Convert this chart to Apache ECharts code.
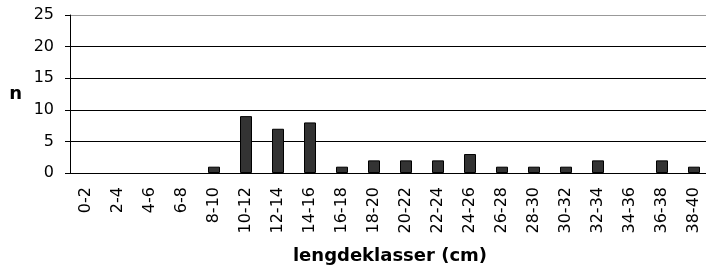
<!DOCTYPE html>
<html>
<head>
<meta charset="utf-8">
<script src="https://cdn.jsdelivr.net/npm/echarts@6/dist/echarts.min.js"></script>
<style>
  html, body { margin: 0; padding: 0; background: #fff; overflow: hidden; }
  #chart { width: 710px; height: 275px; }
</style>
</head>
<body>
<div id="chart"></div>
<script>
// lengdeklasser og antall
const klasser = ['0-2', '2-4', '4-6', '6-8', '8-10', '10-12', '12-14', '14-16', '16-18', '18-20',
  '20-22', '22-24', '24-26', '26-28', '28-30', '30-32', '32-34', '34-36', '36-38', '38-40'];
const antall = [0, 0, 0, 0, 1, 9, 7, 8, 1, 2, 2, 2, 3, 1, 1, 1, 2, 0, 2, 1];
const yTicks = [0, 5, 10, 15, 20, 25];

const chart = echarts.init(document.getElementById('chart'));
const font = 'DejaVu Sans';

// tomme klasser uten ramme
const barData = antall.map(v => v === 0 ? { value: v, itemStyle: { borderWidth: 0, opacity: 0 } } : v);

chart.setOption({
  animation: false,
  grid: { left: 70, right: 0, top: 15, bottom: 102 },
  xAxis: {
    type: 'category',
    data: klasser,
    name: 'lengdeklasser (cm)',
    nameLocation: 'middle',
    nameGap: 74,
    nameTextStyle: { fontFamily: font, fontWeight: 'bold', fontSize: 18, color: '#000' },
    axisLine: { lineStyle: { color: '#000', width: 1 } },
    axisTick: { length: 7, lineStyle: { color: '#000' } },
    axisLabel: {
      rotate: 90, interval: 0, margin: 14,
      fontFamily: font, fontSize: 16, color: '#000'
    },
    splitLine: { show: false }
  },
  yAxis: {
    type: 'value',
    min: yTicks[0],
    max: yTicks[yTicks.length - 1],
    interval: 5,
    name: 'n',
    nameLocation: 'middle',
    nameRotate: 0,
    nameGap: 48,
    nameTextStyle: { fontFamily: font, fontWeight: 'bold', fontSize: 18, color: '#000' },
    axisLine: { show: true, lineStyle: { color: '#000', width: 1 } },
    axisTick: { show: true, length: 5, lineStyle: { color: '#000' } },
    axisLabel: { margin: 16, fontFamily: font, fontSize: 16, color: '#000' },
    splitLine: {
      show: true,
      lineStyle: { color: ['#000', '#000', '#000', '#000', '#000', '#999'], width: 1 }
    }
  },
  series: [{
    type: 'bar',
    data: barData,
    barWidth: 12,
    itemStyle: { color: '#333', borderColor: '#000', borderWidth: 1 }
  }]
});
</script>
</body>
</html>
